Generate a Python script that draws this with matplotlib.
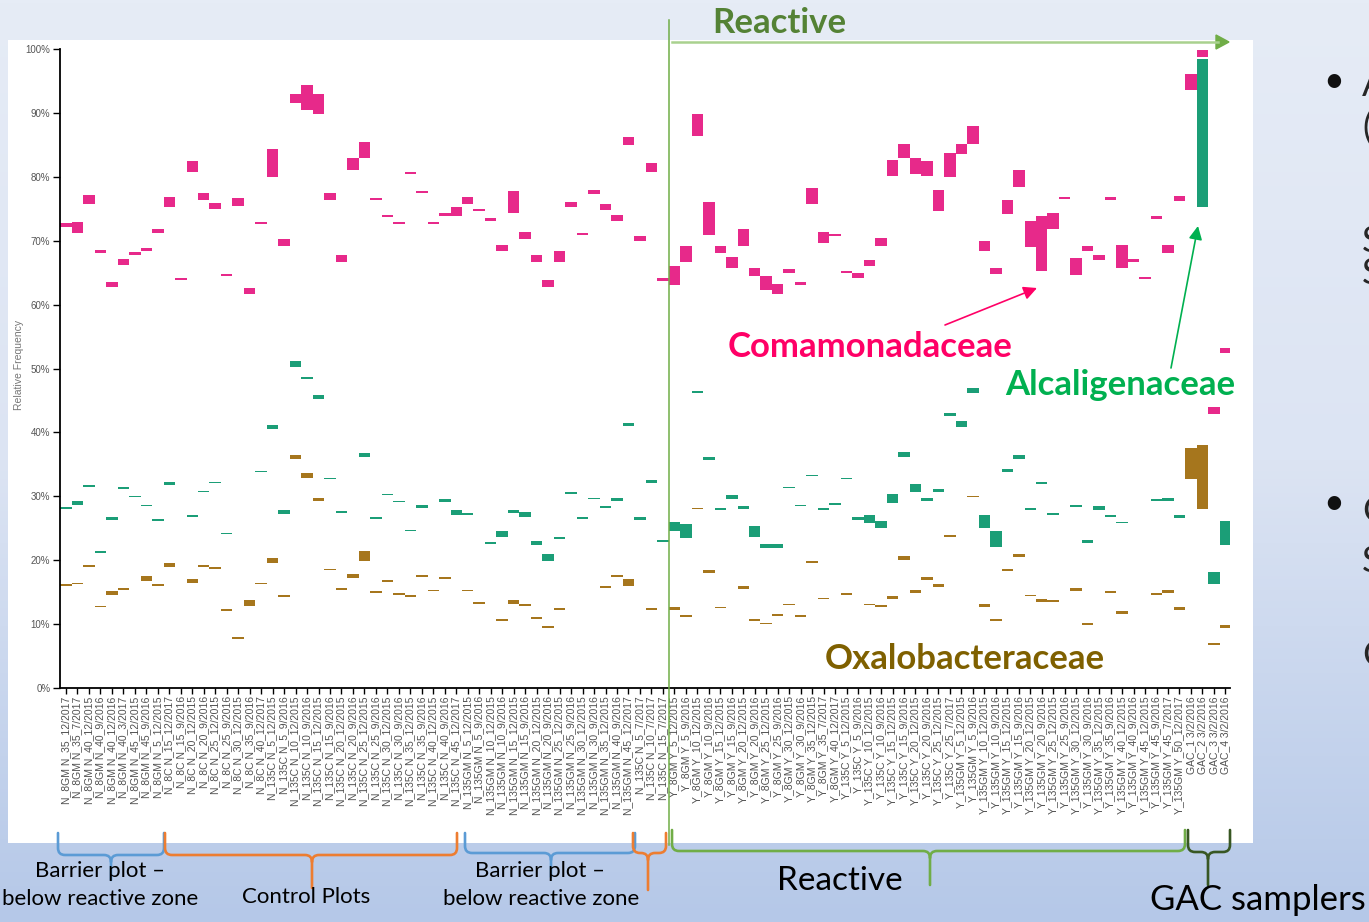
import numpy as np
import matplotlib.pyplot as plt
from matplotlib.colors import LinearSegmentedColormap
from matplotlib.patches import Rectangle, Polygon, PathPatch
from matplotlib.path import Path

plt.rcParams['font.family'] = ['Lato', 'DejaVu Sans']

# sample names, grouped by plot type
barrier_a = ['N_8GM N_35_12/2017', 'N_8GM N_35_7/2017', 'N_8GM N_40_12/2015', 'N_8GM N_40_9/2016',
             'N_8GM N_40_12/2016', 'N_8GM N_40_3/2017', 'N_8GM N_45_12/2015', 'N_8GM N_45_9/2016',
             'N_8GM N_5_12/2015']
control_a = ['N_8C N_15_12/2017', 'N_8C N_15_9/2016', 'N_8C N_20_12/2015', 'N_8C N_20_9/2016',
             'N_8C N_25_12/2015', 'N_8C N_25_9/2016', 'N_8C N_30_12/2015', 'N_8C N_35_9/2016',
             'N_8C N_40_12/2017', 'N_135C N_5_12/2015', 'N_135C N_5_9/2016', 'N_135C N_10_12/2015',
             'N_135C N_10_9/2016', 'N_135C N_15_12/2015', 'N_135C N_15_9/2016', 'N_135C N_20_12/2015',
             'N_135C N_20_9/2016', 'N_135C N_25_12/2015', 'N_135C N_25_9/2016', 'N_135C N_30_12/2015',
             'N_135C N_30_9/2016', 'N_135C N_35_12/2015', 'N_135C N_35_9/2016', 'N_135C N_40_12/2015',
             'N_135C N_40_9/2016', 'N_135C N_45_12/2017']
barrier_b = ['N_135GM N_5_12/2015', 'N_135GM N_5_9/2016', 'N_135GM N_10_12/2015', 'N_135GM N_10_9/2016',
             'N_135GM N_15_12/2015', 'N_135GM N_15_9/2016', 'N_135GM N_20_12/2015', 'N_135GM N_20_9/2016',
             'N_135GM N_25_12/2015', 'N_135GM N_25_9/2016', 'N_135GM N_30_12/2015', 'N_135GM N_30_9/2016',
             'N_135GM N_35_12/2015', 'N_135GM N_40_9/2016', 'N_135GM N_45_12/2017']
control_b = ['N_135C N_5_7/2017', 'N_135C N_10_7/2017', 'N_135C N_15_7/2017']
reactive = ['Y_8GM Y_5_12/2015', 'Y_8GM Y_5_9/2016', 'Y_8GM Y_10_12/2015', 'Y_8GM Y_10_9/2016',
            'Y_8GM Y_15_12/2015', 'Y_8GM Y_15_9/2016', 'Y_8GM Y_20_12/2015', 'Y_8GM Y_20_9/2016',
            'Y_8GM Y_25_12/2015', 'Y_8GM Y_25_9/2016', 'Y_8GM Y_30_12/2015', 'Y_8GM Y_30_9/2016',
            'Y_8GM Y_35_12/2015', 'Y_8GM Y_35_7/2017', 'Y_8GM Y_40_12/2017',
            'Y_135C Y_5_12/2015', 'Y_135C Y_5_9/2016', 'Y_135C Y_10_12/2015', 'Y_135C Y_10_9/2016',
            'Y_135C Y_15_12/2015', 'Y_135C Y_15_9/2016', 'Y_135C Y_20_12/2015', 'Y_135C Y_20_9/2016',
            'Y_135C Y_25_12/2015', 'Y_135C Y_25_7/2017',
            'Y_135GM Y_5_12/2015', 'Y_135GM Y_5_9/2016', 'Y_135GM Y_10_12/2015', 'Y_135GM Y_10_9/2016',
            'Y_135GM Y_15_12/2015', 'Y_135GM Y_15_9/2016', 'Y_135GM Y_20_12/2015', 'Y_135GM Y_20_9/2016',
            'Y_135GM Y_25_12/2015', 'Y_135GM Y_25_9/2016', 'Y_135GM Y_30_12/2015', 'Y_135GM Y_30_9/2016',
            'Y_135GM Y_35_12/2015', 'Y_135GM Y_35_9/2016', 'Y_135GM Y_40_12/2015', 'Y_135GM Y_40_9/2016',
            'Y_135GM Y_45_12/2015', 'Y_135GM Y_45_9/2016', 'Y_135GM Y_45_7/2017', 'Y_135GM Y_50_12/2017']
gac = ['GAC_1 3/2/2016', 'GAC_2 3/2/2016', 'GAC_3 3/2/2016', 'GAC_4 3/2/2016']
labels = barrier_a + control_a + barrier_b + control_b + reactive + gac

nan = np.nan
# relative frequency ranges (%), low / high per sample
coma_lo = [72.2, 71.2, 75.8, 68.1, 62.8, 66.2, 67.8, 68.4, 71.2, 75.3, 63.9, 80.8, 76.4, 75.0, 64.5, 75.5, 61.7,
           72.6, 80.0, 69.2, 91.6, 90.5, 89.9, 76.4, 66.6, 81.1, 83.0, 76.4, 73.7, 72.6, 80.5, 77.4, 72.6, 73.9,
           73.9, 75.8, 74.7, 73.1, 68.4, 74.4, 70.3, 66.6, 62.8, 66.6, 75.3, 70.9, 77.3, 74.8, 73.1, 85.0, 70.0,
           80.8, 63.7, 63.1, 66.7, 86.4, 70.9, 68.0, 65.8, 69.2, 64.5, 62.3, 61.7, 65.0, 63.1, 75.8, 69.7, 70.8,
           64.9, 64.2, 66.1, 69.2, 80.2, 83.0, 80.5, 80.2, 74.7, 80.0, 83.6, 85.2, 68.4, 64.8, 74.2, 78.4, 69.0,
           65.3, 71.9, 76.6, 64.7, 68.4, 67.0, 76.4, 65.8, 66.7, 64.0, 73.4, 68.0, 76.2, 93.6, 98.8, 42.9, 52.4]
coma_hi = [72.8, 73.0, 77.1, 68.5, 63.6, 67.1, 68.3, 68.8, 71.8, 76.9, 64.2, 82.5, 77.4, 75.9, 64.8, 76.7, 62.6,
           73.0, 84.4, 70.3, 92.9, 94.3, 92.9, 77.4, 67.8, 83.0, 85.5, 76.7, 74.1, 73.0, 80.8, 77.7, 73.0, 74.4,
           75.2, 76.9, 75.0, 73.5, 69.3, 77.7, 71.3, 67.8, 63.8, 68.4, 76.0, 71.2, 77.9, 75.8, 74.1, 86.3, 70.8,
           82.1, 64.1, 66.1, 69.1, 89.9, 76.1, 69.1, 67.5, 71.9, 65.8, 64.5, 63.3, 65.5, 63.5, 78.3, 71.3, 71.1,
           65.3, 65.0, 67.0, 70.5, 82.6, 85.1, 83.0, 82.4, 77.9, 83.8, 85.1, 87.9, 70.0, 65.8, 76.4, 81.1, 73.1,
           73.9, 74.4, 76.9, 67.3, 69.2, 67.8, 76.9, 69.4, 67.2, 64.3, 73.8, 69.3, 77.0, 96.1, 99.8, 43.9, 53.2]

alca_lo = [28.0, 28.7, 31.5, 21.2, 26.3, 31.2, 29.9, 28.5, 26.2, 31.8, nan, 26.8, 30.7, 32.1, 24.1, nan, nan,
           33.8, 40.6, 27.3, 50.3, 48.4, 45.3, 32.7, 27.4, nan, 36.2, 26.5, 30.2, 29.1, 24.6, 28.2, nan, 29.1,
           27.1, 27.1, nan, 22.6, 23.7, 27.4, 26.8, 22.4, 19.9, 23.3, 30.4, 26.5, 29.6, 28.2, 29.3, 41.0, 26.3,
           32.1, 22.9, 24.6, 23.5, 46.2, 35.7, 27.9, 29.6, 28.0, 23.6, 21.9, 21.9, 31.3, 28.5, 33.2, 27.9, 28.7,
           32.7, 26.3, 25.8, 25.1, 29.0, 36.2, 30.6, 29.3, 30.7, 42.6, 40.9, 46.2, 25.1, 22.1, 33.8, 35.9, 27.9,
           32.0, 27.1, nan, 28.3, 22.7, 27.9, 26.8, 25.8, nan, nan, 29.3, 29.3, 26.6, nan, 75.3, 16.3, 22.4]
alca_hi = [28.3, 29.3, 31.8, 21.5, 26.8, 31.5, 30.1, 28.7, 26.5, 32.3, nan, 27.1, 30.9, 32.3, 24.3, nan, nan,
           34.0, 41.2, 27.9, 51.1, 48.7, 45.9, 32.9, 27.7, nan, 36.7, 26.8, 30.4, 29.3, 24.8, 28.7, nan, 29.5,
           27.9, 27.4, nan, 22.9, 24.6, 27.9, 27.6, 23.0, 21.0, 23.7, 30.7, 26.8, 29.8, 28.5, 29.8, 41.4, 26.8,
           32.6, 23.2, 25.9, 25.7, 46.5, 36.2, 28.1, 30.2, 28.5, 25.4, 22.6, 22.6, 31.5, 28.7, 33.4, 28.1, 29.0,
           32.9, 26.8, 27.1, 26.2, 30.4, 37.0, 32.0, 29.8, 31.2, 43.1, 41.8, 47.0, 27.1, 24.6, 34.2, 36.5, 28.2,
           32.3, 27.4, nan, 28.7, 23.2, 28.5, 27.1, 26.0, nan, nan, 29.5, 29.8, 27.0, nan, 98.5, 18.2, 26.2]

oxa_lo = [16.0, 16.3, 19.0, 12.7, 14.6, 15.4, nan, 16.8, 16.0, 19.0, nan, 16.5, 19.0, 18.7, 12.1, 7.7, 12.9,
          16.3, 19.6, 14.3, 35.9, 32.9, 29.3, 18.5, 15.4, 17.2, 19.9, 14.9, 16.6, 14.6, 14.3, 17.4, 15.2, 17.1,
          nan, 15.2, 13.2, nan, 10.5, 13.2, 12.9, 10.8, 9.4, 12.2, nan, nan, nan, 15.7, 17.4, 16.0, nan,
          12.2, nan, 12.2, 11.1, 28.0, 18.0, 12.5, nan, 15.5, 10.5, 10.0, 11.3, 13.0, 11.1, 19.6, 13.9, nan,
          14.6, nan, 13.0, 12.6, 14.0, 20.1, 14.9, 16.9, 15.8, 23.7, nan, 29.9, 12.7, 10.5, 18.3, 20.5, 14.4,
          13.5, 13.5, nan, 15.2, 9.9, nan, 14.9, 11.6, nan, nan, 14.6, 14.9, 12.2, 32.7, 28.0, 6.8, 9.4]
oxa_hi = [16.3, 16.5, 19.3, 12.9, 15.2, 15.7, nan, 17.6, 16.3, 19.6, nan, 17.1, 19.3, 19.0, 12.4, 8.0, 13.8,
          16.5, 20.4, 14.6, 36.5, 33.7, 29.8, 18.7, 15.7, 17.9, 21.5, 15.2, 16.9, 14.9, 14.6, 17.7, 15.4, 17.3,
          nan, 15.4, 13.5, nan, 10.8, 13.8, 13.2, 11.1, 9.7, 12.5, nan, nan, nan, 16.0, 17.7, 17.1, nan,
          12.5, nan, 12.7, 11.5, 28.2, 18.5, 12.7, nan, 16.0, 10.8, 10.2, 11.6, 13.2, 11.4, 19.9, 14.1, nan,
          14.9, nan, 13.2, 13.0, 14.4, 20.7, 15.4, 17.3, 16.2, 24.0, nan, 30.1, 13.1, 10.8, 18.7, 20.9, 14.6,
          14.0, 13.8, nan, 15.7, 10.2, nan, 15.2, 12.1, nan, nan, 14.9, 15.4, 12.6, 37.6, 38.1, 7.1, 9.8]

W, H = 1369, 922
fig = plt.figure(figsize=(W / 100, H / 100), dpi=100)

# slide background + white chart panel (pixel coordinates, y down)
bg = fig.add_axes([0, 0, 1, 1], zorder=0)
bg.set_xlim(0, W)
bg.set_ylim(H, 0)
bg.axis('off')
grad = np.linspace(0, 1, 256)[:, None]
bgmap = LinearSegmentedColormap.from_list('slide', ['#E6ECF6', '#DCE4F3', '#B5C8E8'])
bg.imshow(grad, cmap=bgmap, aspect='auto', extent=[0, W, H, 0], zorder=0)
bg.add_patch(Rectangle((8, 40), 1245, 803, facecolor='white', edgecolor='none', zorder=1))

# the chart itself
ax = fig.add_axes([60 / W, 1 - 688 / H, 1170 / W, 639 / H], zorder=2)
ax.set_facecolor('none')
x = np.arange(len(labels))
for lo, hi, col in [(oxa_lo, oxa_hi, '#A6761D'), (alca_lo, alca_hi, '#1B9E77'), (coma_lo, coma_hi, '#E7298A')]:
    lo = np.array(lo)
    hi = np.array(hi)
    m = ~np.isnan(lo)
    ax.bar(x[m], hi[m] - lo[m], bottom=lo[m], width=1.0, color=col, linewidth=0)

ax.set_xlim(-0.52, 101.4)
ax.set_ylim(0, 100)
ax.set_yticks(range(0, 101, 10))
ax.set_yticklabels([f'{v}%' for v in range(0, 101, 10)], fontsize=7, color='#555555',
                   family='Liberation Sans')
ax.set_xticks(x)
ax.set_xticklabels(labels, rotation=90, fontsize=7.5, color='#505050', family='Liberation Sans')
ax.tick_params(axis='x', length=4, width=1, pad=2)
ax.tick_params(axis='y', length=5, width=1, pad=2)
for s in ['top', 'right']:
    ax.spines[s].set_visible(False)
for s in ['left', 'bottom']:
    ax.spines[s].set_linewidth(1.3)
ax.set_ylabel('Relative Frequency', fontsize=7.5, color='#777777', family='Liberation Sans')
ax.yaxis.set_label_coords(-0.031, 0.505)

# annotation layer on top
ov = fig.add_axes([0, 0, 1, 1], zorder=5)
ov.set_xlim(0, W)
ov.set_ylim(H, 0)
ov.axis('off')
ov.patch.set_visible(False)

# reactive zone marker
ov.plot([668.5, 668.5], [20, 845], color='#70AD47', lw=1.1)
ov.plot([672, 1218], [42, 42], color='#A9D18E', lw=1.8)
ov.add_patch(Polygon([[1216, 35], [1229, 42], [1216, 49]], closed=True, color='#70AD47'))
ov.text(779, 33, 'Reactive', ha='center', va='baseline', fontsize=25, fontweight='bold', color='#548235')

# family labels with arrows
ov.text(870, 357, 'Comamonadaceae', ha='center', va='baseline', fontsize=25, fontweight='bold',
        color='#FF0066')
ov.annotate('', xy=(1037, 288), xytext=(945, 325),
            arrowprops=dict(arrowstyle='-|>', color='#FF0066', lw=1.2, mutation_scale=20,
                            shrinkA=0, shrinkB=0))
ov.text(1120, 395, 'Alcaligenaceae', ha='center', va='baseline', fontsize=25, fontweight='bold',
        color='#00B050')
ov.annotate('', xy=(1198, 226), xytext=(1171, 368),
            arrowprops=dict(arrowstyle='-|>', color='#00B050', lw=1.2, mutation_scale=20,
                            shrinkA=0, shrinkB=0))
ov.text(965, 669, 'Oxalobacteraceae', ha='center', va='baseline', fontsize=25, fontweight='bold',
        color='#7F6000')


def brace(x0, x1, ytop, ymid, ybot, xc, color, r=7):
    verts = [(x0, ytop), (x0, ymid - r), (x0, ymid), (x0 + r, ymid),
             (xc - r, ymid), (xc, ymid), (xc, ymid + r), (xc, ybot),
             (xc, ymid + r), (xc, ymid), (xc + r, ymid),
             (x1 - r, ymid), (x1, ymid), (x1, ymid - r), (x1, ytop)]
    codes = [Path.MOVETO, Path.LINETO, Path.CURVE3, Path.CURVE3,
             Path.LINETO, Path.CURVE3, Path.CURVE3, Path.LINETO,
             Path.MOVETO, Path.CURVE3, Path.CURVE3,
             Path.LINETO, Path.CURVE3, Path.CURVE3, Path.LINETO]
    ov.add_patch(PathPatch(Path(verts, codes), facecolor='none', edgecolor=color, lw=1.9,
                           capstyle='round', joinstyle='round'))


brace(58, 164, 833, 855, 880, 111, '#5B9BD5')
brace(165, 457, 833, 855, 888, 312, '#ED7D31')
brace(465, 635, 833, 853, 877, 551, '#5B9BD5')
brace(633, 666, 833, 853, 890, 648, '#ED7D31')
brace(672, 1185, 830, 851, 885, 930, '#70AD47')
brace(1188, 1230, 830, 852, 885, 1208, '#385723')

ov.text(100, 877, 'Barrier plot –', ha='center', va='baseline', fontsize=16, color='black')
ov.text(100, 905, 'below reactive zone', ha='center', va='baseline', fontsize=16, color='black')
ov.text(306, 903, 'Control Plots', ha='center', va='baseline', fontsize=16, color='black')
ov.text(540, 877, 'Barrier plot –', ha='center', va='baseline', fontsize=16, color='black')
ov.text(541, 905, 'below reactive zone', ha='center', va='baseline', fontsize=16, color='black')
ov.text(840, 890, 'Reactive', ha='center', va='baseline', fontsize=24, color='black')
ov.text(1258, 910, 'GAC samplers', ha='center', va='baseline', fontsize=25, color='black')

# bullet text running off the right edge
ov.text(1334, 92, '•', ha='center', va='baseline', fontsize=26, color='#111111')
ov.text(1334, 514, '•', ha='center', va='baseline', fontsize=26, color='#111111')
for yy, s in [(96, 'Al'), (140, '(C'), (252, 'Si'), (284, 'Sa'), (522, 'Co'), (572, 'Si'), (666, 'Co')]:
    ov.text(1362, yy, s, ha='left', va='baseline', fontsize=26, color='#262626')

fig.savefig('out.png', dpi=100)
